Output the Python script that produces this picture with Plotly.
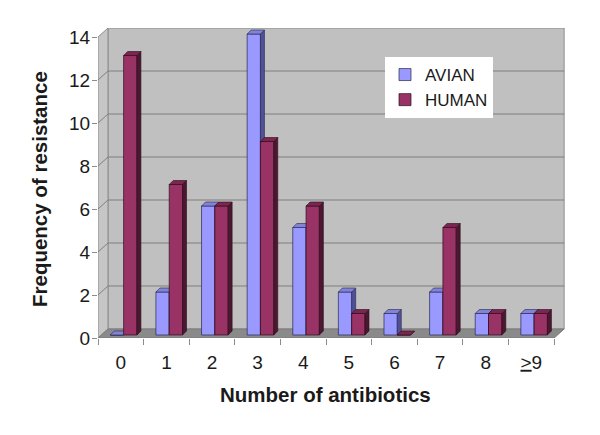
import plotly.graph_objects as go

# ---- data ----
categories = ["0", "1", "2", "3", "4", "5", "6", "7", "8",
              "<span style='text-decoration:underline'>&gt;</span>9"]
avian = [0, 2, 6, 14, 5, 2, 1, 2, 1, 1]
human = [13, 7, 6, 9, 6, 1, 0, 5, 1, 1]
y_ticks = [0, 2, 4, 6, 8, 10, 12, 14]

# ---- geometry (page pixels -> figure / axis units) ----
PAD = 8                                # default body margin of the html page
W, H = 600 - 2 * PAD, 435 - 2 * PAD
PL, PR, PT, PB = 98, 566, 28, 338      # plot area in page pixels
L, T = PL - PAD, PT - PAD
R, B = W - (PR - PAD), H - (PB - PAD)
pw, ph = PR - PL, PB - PT
XMIN, XMAX = -0.5, 9.76
YMAX = 14.42
ppx = pw / (XMAX - XMIN)
ppy = ph / YMAX
wdx, wdy = 10 / ppx, 9 / ppy          # wall depth
bdx, bdy = 4 / ppx, 4 / ppy           # bar depth
bar_w = 13.3 / ppx
off_a = -10.5 / ppx
off_h = off_a + bar_w
lift = 3 / ppy
n = len(avian)
xs = list(range(n))

FONT = "Arial, 'Liberation Sans', sans-serif"


def px_x(p):
    return (p - PL) / pw


def px_y(p):
    return (PB - p) / ph


def faces(vals, off):
    sx, sy, tx, ty = [], [], [], []
    for i, v in zip(xs, vals):
        xl = i + off
        xr = xl + bar_w
        sx += [xr, xr, xr + bdx, xr + bdx, xr, None]
        sy += [0, v, v + bdy, bdy, 0, None]
        tx += [xl, xr, xr + bdx, xl + bdx, xl, None]
        ty += [v, v, v + bdy, v + bdy, v, None]
    return sx, sy, tx, ty


fig = go.Figure()

series = [
    ("AVIAN", avian, off_a, "y2", "#9999ff", "#505099", "#8282d6", "#26264d"),
    ("HUMAN", human, off_h, "y3", "#993366", "#4a1830", "#7a2650", "#2e0a1a"),
]
for name, vals, off, yax, front, side, top, edge in series:
    fig.add_trace(go.Bar(
        x=xs, y=vals, width=bar_w, offset=off, name=name,
        xaxis="x", yaxis=yax,
        marker=dict(color=front, line=dict(color=edge, width=0.7)),
    ))
    sx, sy, tx, ty = faces(vals, off)
    fig.add_trace(go.Scatter(
        x=sx, y=sy, xaxis="x", yaxis=yax, mode="lines", fill="toself",
        fillcolor=side, line=dict(color=edge, width=0.6),
        showlegend=False, hoverinfo="skip"))
    fig.add_trace(go.Scatter(
        x=tx, y=ty, xaxis="x", yaxis=yax, mode="lines", fill="toself",
        fillcolor=top, line=dict(color=edge, width=0.6),
        showlegend=False, hoverinfo="skip"))

# ---- walls, floor, gridlines ----
shapes = []
x0, x1 = XMIN, XMIN + 10
shapes.append(dict(type="rect", xref="x", yref="y", layer="below",
                   x0=x0 + wdx, x1=x1 + wdx, y0=wdy, y1=14 + wdy,
                   fillcolor="#c0c0c0", line=dict(color="#8c8c8c", width=1)))
shapes.append(dict(type="path", xref="x", yref="y", layer="below",
                   path=f"M{x0},0 L{x0},14 L{x0 + wdx},{14 + wdy} L{x0 + wdx},{wdy} Z",
                   fillcolor="#c6c6c6", line=dict(color="#8c8c8c", width=1)))
shapes.append(dict(type="path", xref="x", yref="y", layer="below",
                   path=f"M{x0},0 L{x1},0 L{x1 + wdx},{wdy} L{x0 + wdx},{wdy} Z",
                   fillcolor="#8a8a8a", line=dict(color="#7a7a7a", width=1)))
for k in y_ticks[1:-1]:
    shapes.append(dict(type="line", xref="x", yref="y", layer="below",
                       x0=x0 + wdx, x1=x1 + wdx, y0=k + wdy, y1=k + wdy,
                       line=dict(color="#7f7f7f", width=1)))
    shapes.append(dict(type="line", xref="x", yref="y", layer="below",
                       x0=x0, x1=x0 + wdx, y0=k, y1=k + wdy,
                       line=dict(color="#7f7f7f", width=1)))

fig.update_layout(
    width=W, height=H,
    margin=dict(l=L, r=R, t=T, b=B, autoexpand=False),
    paper_bgcolor="white", plot_bgcolor="white",
    font=dict(family=FONT, color="#1a1a1a"),
    barmode="overlay",
    shapes=shapes,
    showlegend=True,
    legend=dict(x=px_x(385), y=px_y(57), xanchor="left", yanchor="top",
                bgcolor="white", borderwidth=0, font=dict(size=17, family=FONT),
                itemwidth=30, tracegroupgap=0),
    xaxis=dict(range=[XMIN, XMAX], showgrid=False, zeroline=False, showline=False,
               tickmode="array", tickvals=xs, ticktext=categories,
               ticks="outside", ticklen=7, tickcolor="rgba(0,0,0,0)",
               tickfont=dict(size=19, family=FONT),
               minor=dict(tickmode="array", tickvals=[i - 0.5 for i in range(n + 1)],
                          ticks="outside", ticklen=6, tickcolor="#8c8c8c",
                          showgrid=False)),
    yaxis=dict(range=[0, YMAX], showgrid=False, zeroline=False, showline=False,
               tickmode="array", tickvals=y_ticks, ticks="outside", ticklen=5,
               tickcolor="#8c8c8c", tickfont=dict(size=19, family=FONT),
               ticklabelstandoff=-2),
    yaxis2=dict(overlaying="y", range=[-lift, YMAX - lift], visible=False),
    yaxis3=dict(overlaying="y", range=[-lift, YMAX - lift], visible=False),
    annotations=[
        dict(text="<b>Number of antibiotics</b>", xref="paper", yref="paper",
             x=px_x(325), y=px_y(394), xanchor="center", yanchor="middle",
             showarrow=False, font=dict(size=20.5, family=FONT, color="#1a1a1a")),
        dict(text="<b>Frequency of resistance</b>", xref="paper", yref="paper",
             x=px_x(40), y=px_y(189), xanchor="center", yanchor="middle",
             textangle=-90, showarrow=False,
             font=dict(size=20.5, family=FONT, color="#1a1a1a")),
    ],
)

fig.write_html("out.html")
